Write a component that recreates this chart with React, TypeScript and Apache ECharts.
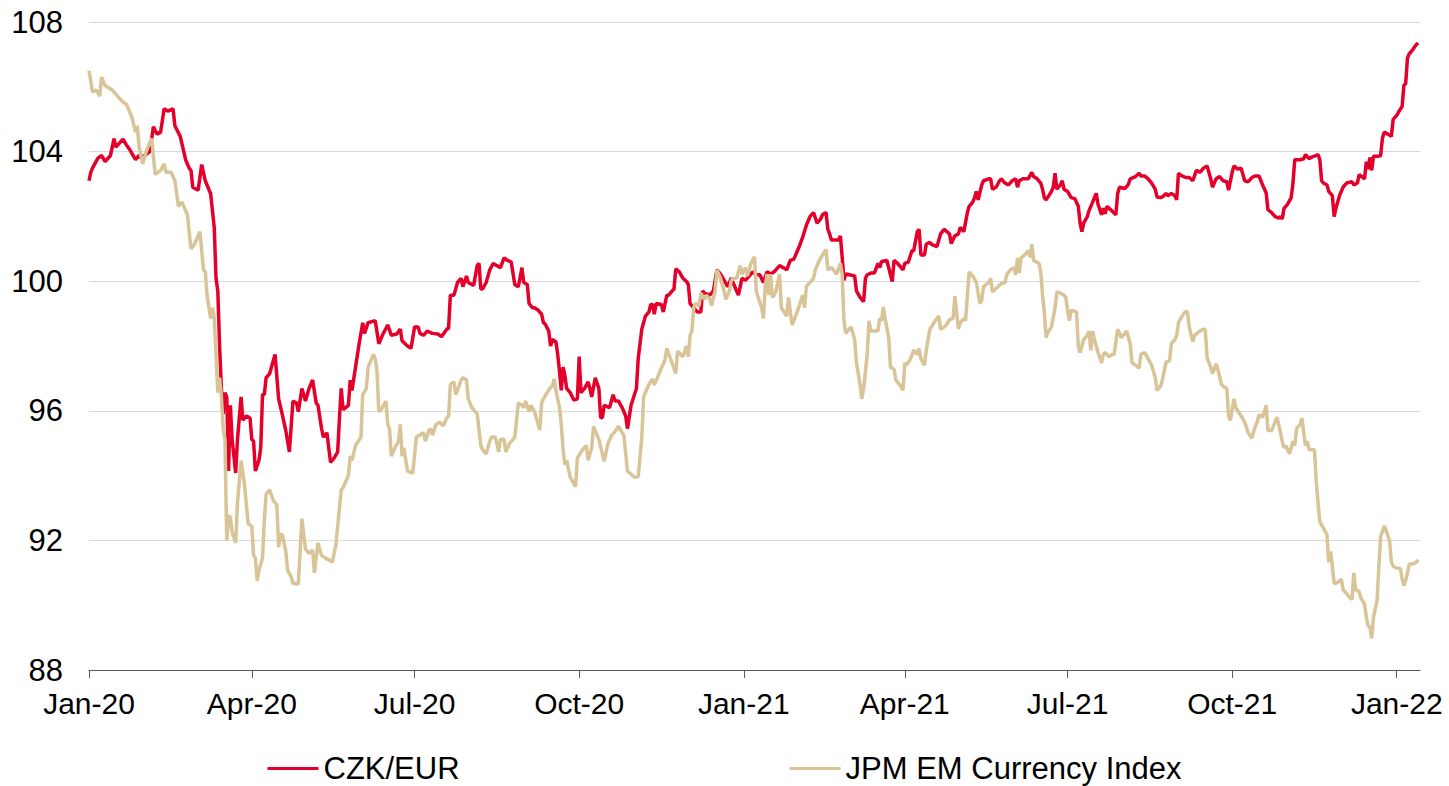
import React, { useEffect, useRef } from "react";
import * as echarts from "echarts";

// Days since 1 Jan 2020 and index levels
const czkDays = [0,1,2,5,7,9,12,14,15,16,19,21,23,26,28,29,31,34,36,38,40,42,44,47,48,51,54,56,57,58,61,63,65,68,69,70,71,72,73,74,75,76,77,78,79,80,82,83,85,86,88,90,91,92,93,95,96,97,98,99,101,102,104,106,108,110,112,114,116,117,119,121,123,125,127,128,130,131,133,135,137,139,140,141,142,145,146,147,149,151,153,154,156,160,162,164,167,169,172,174,175,178,180,182,184,185,187,189,192,195,197,200,201,202,204,206,208,209,211,212,215,217,218,219,220,222,224,226,228,230,232,234,236,238,240,242,243,245,246,248,249,251,253,254,255,257,258,259,261,262,263,264,265,266,267,269,271,273,274,275,277,279,280,281,283,285,286,287,288,291,293,294,296,298,300,301,303,306,307,309,311,313,314,315,316,317,320,321,323,324,326,327,328,330,332,334,335,336,338,340,342,343,344,347,349,351,353,355,357,359,361,363,365,367,369,371,373,375,377,379,381,383,386,388,390,392,394,395,397,399,401,403,405,407,409,410,412,413,414,415,417,419,420,421,422,423,425,428,429,431,433,434,435,437,439,441,442,443,446,448,449,450,452,455,456,458,460,461,463,464,465,467,468,470,471,474,476,478,481,482,484,486,487,489,491,492,494,495,496,497,499,500,503,504,505,507,509,510,512,514,516,518,519,520,522,525,527,528,530,532,533,534,535,538,539,540,541,543,544,545,547,549,551,553,554,555,556,558,559,561,563,564,566,567,568,569,571,574,575,576,579,581,582,585,587,588,590,592,594,596,597,599,600,602,603,605,607,608,609,611,613,615,617,619,621,623,625,627,628,630,632,634,636,637,639,640,642,644,646,648,650,652,654,656,658,659,661,663,665,666,667,668,670,672,673,674,677,679,680,682,683,685,687,688,689,690,692,693,695,696,697,699,701,703,706,707,709,710,711,713,714,715,716,717,718,721,722,723,724,726,728,729,730,731,732,734,735,736,737,738,740,742,743];
const czkValues = [103.1,103.36,103.5,103.8,103.88,103.69,103.88,104.4,104.14,104.2,104.38,104.2,104.04,103.75,103.88,103.8,103.88,104.0,104.77,104.54,104.6,105.32,105.25,105.32,104.8,104.47,103.75,103.49,103.42,102.9,102.81,103.6,103.1,102.7,102.18,101.66,100.09,99.7,98.0,96.69,95.9,96.56,96.43,94.14,96.17,95.12,94.08,95.12,96.43,95.71,95.84,95.78,95.12,95.06,94.14,94.47,94.86,96.5,96.5,97.02,97.15,97.35,97.74,96.37,95.9,95.39,94.73,96.3,96.24,95.97,96.69,96.3,96.69,96.95,96.24,96.17,95.45,95.19,95.32,94.41,94.54,94.73,95.78,96.69,96.04,96.17,96.95,96.63,97.35,98.07,98.72,98.39,98.72,98.78,98.07,98.33,98.65,98.33,98.37,98.52,98.16,98.0,97.93,98.59,98.59,98.39,98.33,98.46,98.39,98.37,98.29,98.52,98.55,99.57,99.57,99.96,100.09,99.83,100.16,99.96,99.87,100.48,100.55,99.76,99.76,99.96,100.35,100.55,100.48,100.42,100.72,100.64,100.59,99.9,99.83,100.42,99.96,99.9,99.31,99.18,99.18,99.11,98.98,98.72,98.68,98.46,98.0,98.2,98.13,97.74,97.22,96.63,97.35,97.09,96.69,96.56,96.33,96.37,97.67,96.56,96.69,96.89,96.69,96.43,97.02,96.69,95.78,95.8,96.17,96.1,96.5,96.3,96.3,96.1,95.84,95.45,96.17,96.69,97.61,98.52,98.92,99.05,99.28,99.28,98.98,99.31,99.28,99.05,99.57,99.57,99.7,99.76,100.38,100.29,100.09,99.99,99.9,99.31,99.18,99.05,99.05,99.7,99.63,99.57,99.7,100.35,100.22,100.03,99.83,100.09,99.83,99.57,100.09,100.03,100.16,100.29,100.2,100.2,99.96,100.29,100.22,100.29,100.48,100.42,100.35,100.64,100.68,100.81,101.07,101.37,101.73,101.99,102.12,101.79,101.92,102.05,102.12,101.6,101.46,101.27,101.27,101.27,101.4,100.75,100.03,100.22,100.2,100.16,99.7,99.5,99.37,100.09,100.2,100.25,100.25,100.55,100.42,100.61,100.64,100.2,99.99,100.64,100.55,100.35,100.55,100.59,100.94,100.94,101.53,101.6,100.81,100.81,101.14,101.2,101.14,101.07,101.46,101.6,101.46,101.16,101.4,101.46,101.66,101.53,102.12,102.31,102.44,102.58,102.77,102.51,102.97,103.1,103.16,103.16,102.84,102.9,103.1,103.16,103.03,102.97,103.1,103.16,102.9,103.1,103.16,103.16,103.36,103.23,103.16,103.03,102.84,102.58,102.51,102.77,102.9,103.33,102.84,102.97,103.1,102.84,102.77,102.58,102.55,102.31,101.79,101.53,101.79,101.99,102.18,102.44,102.71,102.38,102.05,102.25,102.08,102.31,102.21,102.05,102.71,102.9,102.86,102.99,103.16,103.23,103.33,103.25,103.25,103.16,103.03,102.84,102.6,102.58,102.6,102.71,102.64,102.71,102.64,102.51,103.33,103.25,103.2,103.2,103.1,103.42,103.36,103.49,103.56,103.16,102.9,103.16,103.23,103.1,103.07,102.81,103.36,103.56,103.46,103.49,103.1,103.07,103.2,103.25,103.25,102.97,102.73,102.21,102.12,101.99,101.95,101.99,101.92,102.25,102.38,102.58,103.03,103.75,103.75,103.78,103.91,103.78,103.82,103.86,103.91,103.75,103.1,103.03,102.97,102.77,102.64,101.99,102.25,102.64,102.9,103.03,103.07,102.97,103.03,103.29,103.25,103.16,103.69,103.46,103.82,103.42,103.86,103.86,103.88,104.41,104.6,104.54,104.47,104.99,105.06,105.12,105.22,105.39,106.04,106.1,106.89,107.02,107.15,107.31,107.35];

const emDays = [0,2,4,6,7,9,13,16,18,21,24,26,27,28,30,32,35,37,40,42,43,46,48,50,52,55,57,59,62,64,65,66,68,69,70,71,72,73,74,75,76,77,78,79,80,82,83,85,87,89,91,92,93,94,95,97,98,99,101,103,105,106,107,108,110,111,113,114,117,119,121,123,125,126,128,130,132,134,136,138,139,141,142,145,146,147,149,152,153,155,156,159,160,161,162,164,166,167,168,169,171,173,174,175,176,178,181,183,185,187,188,190,191,192,194,196,198,200,201,202,204,205,206,208,209,211,212,214,216,217,219,220,222,224,225,227,228,229,230,232,233,235,237,238,240,242,243,244,246,247,249,250,252,253,254,256,258,259,260,261,263,264,265,266,267,269,272,273,275,278,279,281,282,285,288,290,292,294,296,299,301,305,307,309,310,313,315,316,319,322,323,328,329,332,334,335,336,337,338,339,341,342,344,345,347,348,350,351,353,355,356,358,359,361,362,364,365,367,368,370,372,373,374,376,377,378,379,380,381,382,383,384,386,387,390,391,393,395,397,399,400,401,403,405,406,408,410,412,413,415,417,418,420,421,422,423,424,426,428,429,431,432,433,435,436,437,439,441,442,443,444,445,447,448,450,451,453,455,456,457,459,461,463,464,465,467,468,470,471,473,475,476,477,479,481,483,484,486,487,489,490,491,492,494,496,498,499,500,503,504,505,506,508,510,512,513,515,517,518,519,520,521,523,525,526,527,528,531,532,533,534,535,536,538,540,541,543,545,546,547,548,549,551,552,553,554,556,558,559,560,561,562,564,566,567,568,570,572,573,575,577,579,580,582,583,585,587,588,590,592,594,596,597,599,600,602,604,605,607,608,609,611,613,614,615,617,618,620,621,623,624,625,627,628,630,631,633,634,636,637,638,640,641,644,646,648,650,652,653,654,656,657,658,659,661,663,664,665,667,668,669,671,672,673,674,675,677,678,679,680,681,682,685,686,687,688,690,692,693,694,695,696,697,699,700,701,703,705,706,707,708,710,711,713,714,715,716,717,718,720,721,722,724,725,727,728,729,731,733,734,735,736,738,740,742,743];
const emValues = [106.5,105.84,105.9,105.71,106.3,106.04,105.9,105.71,105.58,105.45,105.06,104.6,104.8,104.14,103.62,104.01,104.41,103.3,103.42,103.62,103.36,103.36,103.1,102.31,102.44,102.05,101.0,101.14,101.53,100.35,100.29,99.57,98.85,99.18,98.85,97.74,96.56,97.02,96.43,95.45,95.12,91.99,92.77,92.71,92.25,91.92,93.16,94.47,93.69,92.51,92.44,91.53,91.46,90.75,91.08,91.46,92.64,93.42,93.56,93.23,93.1,91.79,92.18,92.18,91.66,91.08,90.88,90.68,90.65,92.67,91.73,91.6,91.7,91.0,91.92,91.53,91.46,91.4,91.33,91.86,92.44,93.56,93.62,94.01,94.6,94.47,94.93,95.19,96.5,96.69,97.35,97.74,97.61,97.22,95.97,96.1,96.3,95.58,95.45,94.6,94.86,95.06,95.58,94.6,94.86,94.14,94.08,95.19,95.25,95.32,95.06,95.39,95.45,95.25,95.58,95.65,95.54,95.78,95.84,96.82,96.89,96.5,96.63,96.95,97.02,96.95,96.37,96.1,95.97,95.9,94.93,94.8,94.67,95.06,95.19,95.19,94.99,94.73,95.12,95.12,94.73,94.99,95.12,95.19,96.24,96.17,96.1,96.3,95.97,96.17,95.97,95.78,95.41,96.24,96.37,96.56,96.72,96.76,96.98,96.63,96.1,95.58,94.8,94.34,94.47,93.95,93.66,94.54,94.73,94.93,94.47,94.86,95.52,95.12,94.44,94.97,95.23,95.36,95.52,95.23,94.14,93.95,93.97,95.19,96.43,96.82,96.98,96.8,97.19,97.58,97.93,97.15,97.84,97.67,98.0,97.67,98.33,98.46,99.18,99.31,99.24,99.63,99.44,99.57,99.46,99.24,99.7,100.35,100.09,99.7,99.44,99.7,100.03,100.09,100.09,100.48,100.22,100.42,100.16,100.55,100.75,99.7,99.5,99.18,98.85,99.83,100.22,99.57,100.22,99.5,99.57,99.7,100.22,99.18,98.92,99.5,98.65,98.92,99.24,99.57,99.18,99.83,99.96,100.09,100.35,100.61,100.81,100.98,100.35,100.42,100.29,100.22,100.55,100.22,98.78,98.39,98.46,98.59,98.2,97.48,96.82,96.37,96.69,97.74,98.78,98.46,98.46,98.46,98.85,98.78,99.2,98.85,98.26,97.35,97.28,96.95,96.82,96.63,97.48,97.41,97.58,97.87,97.74,97.93,97.61,97.41,97.87,98.52,98.59,98.78,98.92,98.52,98.55,98.63,98.81,98.85,99.54,98.52,98.72,98.85,98.78,99.57,100.29,100.16,99.96,99.31,99.41,99.83,99.96,100.09,99.67,99.72,99.83,99.93,99.96,100.2,100.35,100.42,100.2,100.72,100.25,100.72,100.81,100.94,100.75,101.14,100.64,100.55,100.29,99.57,99.05,98.26,98.42,98.59,99.18,99.67,99.63,99.57,99.5,99.11,98.78,99.11,99.07,99.05,98.0,97.8,98.2,98.33,98.46,97.87,98.46,98.2,97.8,97.48,97.74,97.8,97.67,97.74,97.74,98.52,98.26,98.39,98.46,98.07,97.48,97.41,97.32,97.74,97.8,97.61,97.41,97.02,96.63,96.76,96.95,97.5,97.54,98.07,98.2,98.33,98.72,98.92,99.07,99.05,98.59,98.13,98.33,98.42,98.46,98.52,98.5,97.63,97.35,97.15,97.45,97.28,96.82,96.76,96.69,95.84,95.71,96.37,96.1,95.84,95.65,95.32,95.15,95.54,95.65,95.88,95.8,95.97,96.17,95.39,95.39,95.65,95.8,95.58,95.06,94.86,94.93,94.67,94.86,95.06,94.93,95.45,95.58,95.78,95.32,94.93,95.06,94.8,94.8,93.82,93.16,92.58,92.38,92.18,91.33,91.66,91.2,90.68,90.68,90.75,90.81,90.48,90.35,90.22,90.18,91.0,90.48,90.42,90.22,90.03,89.63,89.37,89.31,88.98,89.63,90.16,91.2,92.12,92.44,92.31,91.99,91.33,91.2,91.14,91.14,90.81,90.61,90.75,91.27,91.27,91.33,91.4];

const tickDates: [number, number, number][] = [
  [2020, 0, 1], [2020, 3, 1], [2020, 6, 1], [2020, 9, 1],
  [2021, 0, 1], [2021, 3, 1], [2021, 6, 1], [2021, 9, 1], [2022, 0, 1],
];
const tickLabels = ["Jan-20", "Apr-20", "Jul-20", "Oct-20", "Jan-21", "Apr-21", "Jul-21", "Oct-21", "Jan-22"];
const seriesNames = ["CZK/EUR", "JPM EM Currency Index"];

const DAY = 86400000;
const START = Date.UTC(2020, 0, 1);
const END = Date.UTC(2022, 0, 14);
const FONT = "'Liberation Sans', Arial, sans-serif";

export default function App() {
  const ref = useRef<HTMLDivElement>(null);
  useEffect(() => {
    if (!ref.current) return;
    const chart = echarts.init(ref.current, undefined, { renderer: "svg" });
    const tickTimes = tickDates.map(([y, m, d]) => Date.UTC(y, m, d));
    const fmt = (v: number) => {
      const i = tickTimes.findIndex((t) => Math.abs(t - v) < DAY / 2);
      return i >= 0 ? tickLabels[i] : "";
    };
    const czkData = czkDays.map((d, i) => [START + d * DAY, czkValues[i]]);
    const emData = emDays.map((d, i) => [START + d * DAY, emValues[i]]);
    chart.setOption({
      animation: false,
      backgroundColor: "#ffffff",
      textStyle: { fontFamily: FONT },
      grid: { left: 89, right: 29, top: 22, bottom: 116 },
      legend: {
        top: 748,
        left: "center",
        itemGap: 330,
        itemWidth: 51,
        itemHeight: 3,
        icon: "rect",
        textStyle: { fontSize: 31, color: "#000", fontFamily: FONT },
        data: seriesNames,
      },
      xAxis: {
        type: "value",
        min: START,
        max: END,
        axisLine: { show: true, lineStyle: { color: "#595959", width: 1 } },
        axisTick: { show: true, length: 8, lineStyle: { color: "#595959" }, customValues: tickTimes },
        axisLabel: {
          customValues: tickTimes,
          formatter: fmt,
          fontSize: 30,
          color: "#000",
          margin: 18,
          fontFamily: FONT,
          showMinLabel: true,
          showMaxLabel: true,
        },
        splitLine: { show: false },
      },
      yAxis: {
        type: "value",
        min: 88,
        max: 108,
        interval: 4,
        axisLine: { show: false },
        axisTick: { show: false },
        axisLabel: { fontSize: 31, color: "#000", margin: 26, fontFamily: FONT },
        splitLine: { lineStyle: { color: "#D9D9D9", width: 1 } },
      },
      series: [
        {
          name: seriesNames[0],
          type: "line",
          data: czkData,
          showSymbol: false,
          symbol: "none",
          lineStyle: { color: "#E4002B", width: 3.5 },
          itemStyle: { color: "#E4002B" },
        },
        {
          name: seriesNames[1],
          type: "line",
          data: emData,
          showSymbol: false,
          symbol: "none",
          lineStyle: { color: "#D9C498", width: 3.5 },
          itemStyle: { color: "#D9C498" },
        },
      ],
    });
    return () => chart.dispose();
  }, []);
  return (
    <div
      ref={ref}
      style={{ position: "absolute", left: 0, top: 0, width: 1449, height: 786 }}
    />
  );
}
